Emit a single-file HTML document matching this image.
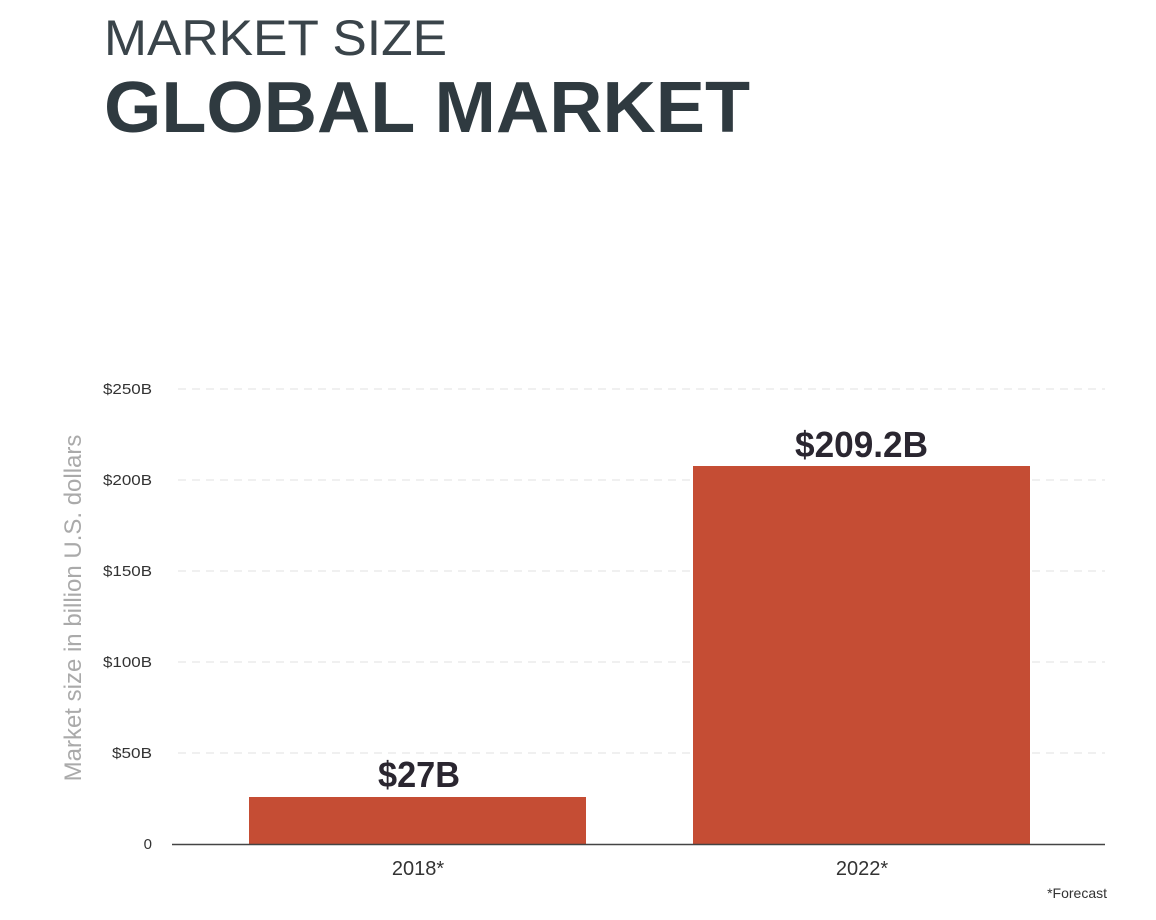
<!DOCTYPE html>
<html><head><meta charset="utf-8"><style>
html,body{margin:0;padding:0;background:#fff;}
svg{display:block;}
</style></head><body>
<svg width="1156" height="920" viewBox="0 0 1156 920" xmlns="http://www.w3.org/2000/svg" font-family="Liberation Sans, sans-serif">
<text x="104" y="55" font-size="50" fill="#3a444a" textLength="343" lengthAdjust="spacingAndGlyphs" style="font-weight:300">MARKET SIZE</text>
<text x="104" y="132" font-size="72" font-weight="bold" fill="#2f3a40" textLength="646" lengthAdjust="spacingAndGlyphs">GLOBAL MARKET</text>
<g stroke="#e2e2e2" stroke-width="1" stroke-dasharray="8,6">
<line x1="178" y1="389" x2="1105" y2="389"/>
<line x1="178" y1="480" x2="1105" y2="480"/>
<line x1="178" y1="571" x2="1105" y2="571"/>
<line x1="178" y1="662" x2="1105" y2="662"/>
<line x1="178" y1="753" x2="1105" y2="753"/>
</g>
<g font-size="15" fill="#333" text-anchor="end">
<text x="152" y="394" textLength="49" lengthAdjust="spacingAndGlyphs">$250B</text>
<text x="152" y="485" textLength="49" lengthAdjust="spacingAndGlyphs">$200B</text>
<text x="152" y="576" textLength="49" lengthAdjust="spacingAndGlyphs">$150B</text>
<text x="152" y="667" textLength="49" lengthAdjust="spacingAndGlyphs">$100B</text>
<text x="152" y="758" textLength="40" lengthAdjust="spacingAndGlyphs">$50B</text>
<text x="152" y="849">0</text>
</g>
<text transform="translate(81,608) rotate(-90)" text-anchor="middle" font-size="24" fill="#aaaaaa">Market size in billion U.S. dollars</text>
<rect x="249" y="797" width="337" height="47" fill="#c54d34"/>
<rect x="693" y="466" width="337" height="378" fill="#c54d34"/>
<line x1="172" y1="844.5" x2="1105" y2="844.5" stroke="#444" stroke-width="1.5"/>
<text x="378" y="787" font-size="36" font-weight="bold" fill="#2a2630" textLength="82" lengthAdjust="spacingAndGlyphs">$27B</text>
<text x="795" y="457" font-size="36" font-weight="bold" fill="#2a2630" textLength="133" lengthAdjust="spacingAndGlyphs">$209.2B</text>
<text x="418" y="875" text-anchor="middle" font-size="20" fill="#333">2018*</text>
<text x="862" y="875" text-anchor="middle" font-size="20" fill="#333">2022*</text>
<text x="1107" y="898" text-anchor="end" font-size="14" fill="#333">*Forecast</text>
</svg>
</body></html>
